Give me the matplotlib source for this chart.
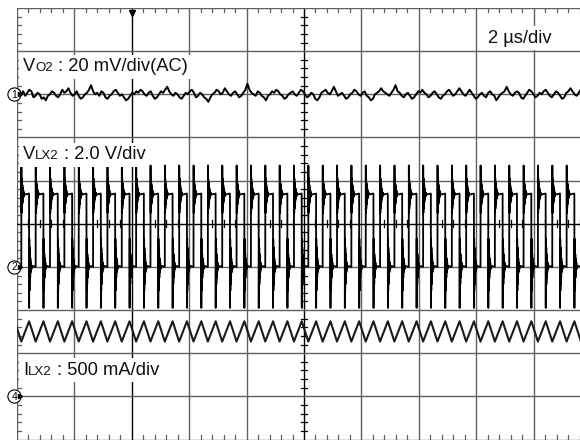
import numpy as np
import matplotlib
matplotlib.use("Agg")
import matplotlib.pyplot as plt
from matplotlib.offsetbox import TextArea, HPacker, AnchoredOffsetbox

plt.rcParams['font.family'] = ['Liberation Sans', 'DejaVu Sans']

# scope settings
t_div = 2.0        # us/div
vo_div = 20.0      # mV/div (ch1)
vlx_div = 2.0      # V/div (ch2)
ilx_div = 500.0    # mA/div (ch4)
n_xdiv = 10
n_ydiv = 10

# ground reference positions, divisions from screen centre
gnd_ch1 = 3.0
gnd_ch2 = -1.0
gnd_ch4 = -4.0
trig_div = 2.0

# switching node, one period (us, V)
t_sw = 0.5
t_first = 0.15
lx_t = [0.000, 0.003, 0.009, 0.015, 0.021, 0.027, 0.033, 0.039, 0.045, 0.052, 0.060, 0.070,
        0.082, 0.095, 0.110, 0.270, 0.273, 0.279, 0.285, 0.291, 0.297, 0.303, 0.310, 0.318,
        0.328, 0.340, 0.355, 0.375, 0.500]
lx_v = [0.0, 4.7, 2.5, 4.1, 2.7, 3.9, 2.9, 3.8, 3.0, 3.65, 3.15, 3.55,
        3.25, 3.45, 3.35, 3.4, -1.9, 1.3, -1.1, 0.9, -0.8, 0.6, -0.5, 0.4,
        -0.25, 0.2, -0.1, 0.05, 0.0]

# inductor current, one period (us, mA)
il_t = [0.0, 0.272, 0.5]
il_v = [635, 870, 635]

# output ripple, 0.7 mV steps
vo_ripple = [
    1, 3, 0, 2, -1, 1, 3, 2, -2, -1, 1, 0, -3, -2, -4, -1, 0, 2, 1, -1,
    -2, 0, 3, 1, 2, 4, 1, -1, 0, 2, -1, -3, -2, 0, 1, 3, 6, 2, 0, 1,
    -1, 2, 1, -2, -3, -1, 0, 2, 3, 1, -1, 0, -2, -4, -3, -1, 1, 0, 2, 1,
    3, 2, 0, -1, 1, 2, -1, -3, -2, 0, 2, 1, 3, 5, 2, 0, -1, 1, 0, -2,
    -3, -1, 1, 0, 2, 3, 1, -2, -1, 1, 0, -2, -3, -5, -2, 0, 1, 3, 2, 0,
    1, 4, 2, 0, -1, 1, 2, 0, -2, -1, 1, 3, 7, 3, 1, 0, -1, 2, 1, -1,
    -2, -4, -1, 0, 2, 1, 3, 2, 0, -1, -3, -2, 0, 1, 2, 0, -1, 1, 3, 2,
    0, -2, -1, 1, 0, -3, -4, -2, 1, 2, 3, 1, 0, 2, 5, 2, -1, 0, 1, -1,
    -3, -2, 0, 1, 3, 2, 0, -1, 1, 2, -1, -2, -4, -3, 0, 1, 2, 4, 2, 1,
    0, -1, 1, 3, 6, 2, 1, -1, -2, 0, 1, -1, -3, -2, 0, 2, 1, 3, 1, 0,
    -2, -1, 1, 2, 0, -2, -3, -1, 0, 2, 3, 1, -1, 0, 2, 4, 2, 0, -1, 1,
    3, 1, -1, -3, -2, 0, 1, -1, -2, 1, 2, 0, -1, -4, -2, 0, 1, 2, 5, 2,
    0, -1, 1, 2, 1, -2, -3, -1, 1, 3, 2, 0, -2, -1, 1, 0, 2, 3, 1, -1,
    -2, 0, 2, 1, -1, -3, -2, 1, 2, 4, 2, 0, -1, 1, 3, 1, -2, -1, 0, 1,
]

fig = plt.figure(figsize=(5.8, 4.4), dpi=100)
ax = fig.add_axes([17 / 580, 0.5 / 440, 574 / 580, 431.5 / 440])
ax.set_xlim(0, n_xdiv)
ax.set_ylim(-n_ydiv / 2, n_ydiv / 2)
ax.axis('off')

grid_c = '#606060'
# graticule
for i in range(n_xdiv + 1):
    c = 'black' if i in (5, int(trig_div)) else grid_c
    ax.plot([i, i], [-5, 5], color=c, lw=1.0, zorder=1)
for j in range(n_ydiv + 1):
    c = 'black' if j == 5 else grid_c
    ax.plot([0, n_xdiv], [j - 5, j - 5], color=c, lw=1.0, zorder=1)

# minor ticks (5 per division)
sx = 3.5 / 57.4
sy = 3.5 / 43.2
for k in range(n_xdiv * 5 + 1):
    x = k / 5
    if k % 5:
        ax.plot([x, x], [-sy, sy], color='black', lw=0.9, zorder=1)
        ax.plot([x, x], [5, 5 - sy * 1.2], color=grid_c, lw=0.9, zorder=1)
        ax.plot([x, x], [-5, -5 + sy * 1.2], color=grid_c, lw=0.9, zorder=1)
for k in range(n_ydiv * 5 + 1):
    y = k / 5 - 5
    if k % 5:
        ax.plot([5 - sx, 5 + sx], [y, y], color='black', lw=0.9, zorder=1)
        ax.plot([0, sx * 1.2], [y, y], color=grid_c, lw=0.9, zorder=1)

# ch2 switching node, ch4 inductor current
t_end = t_div * n_xdiv
n_cyc = int(np.ceil(t_end / t_sw)) + 2
tt, vv, it, iv = [], [], [], []
for k in range(-1, n_cyc):
    t0 = t_first + k * t_sw
    tt += [t0 + a for a in lx_t]
    vv += lx_v
    it += [t0 + a for a in il_t]
    iv += il_v
tt = np.array(tt)
vv = np.array(vv)
it = np.array(it)
iv = np.array(iv)
ax.plot(tt / t_div, gnd_ch2 + vv / vlx_div, color='black', lw=1.3, zorder=3)
ax.plot(it / t_div, gnd_ch4 + iv / ilx_div, color='#1a1a1a', lw=1.5, zorder=3)

# ch1 output ripple
vo = np.array(vo_ripple) * 0.7
to = np.linspace(0, t_end, len(vo))
ax.plot(to / t_div, gnd_ch1 + vo / vo_div, color='black', lw=1.4, zorder=3)

# ground markers
for g, lab in [(gnd_ch1, '1'), (gnd_ch2, '2'), (gnd_ch4, '4')]:
    ax.plot([-0.05], [g], marker='o', ms=9.5, mfc='white', mec='black', mew=0.8,
            clip_on=False, zorder=5)
    ax.text(-0.05, g - 0.01, lab, fontsize=7.5, ha='center', va='center', zorder=6,
            clip_on=False)
    ax.plot([0.05], [g], marker='>', ms=3, color='black', clip_on=False, zorder=5)

# trigger marker
ax.plot([trig_div], [4.88], marker='v', ms=5, color='black', zorder=5)


def label(parts, x, y):
    kids = [TextArea(s, textprops=dict(fontsize=fs, color='#111111')) for s, fs in parts]
    box = HPacker(children=kids, align='baseline', pad=0, sep=0)
    anc = AnchoredOffsetbox(loc='center left', child=box, pad=0.25, borderpad=0,
                            bbox_to_anchor=(x, y), bbox_transform=ax.transData,
                            frameon=True)
    anc.patch.set_facecolor('white')
    anc.patch.set_edgecolor('none')
    anc.set_zorder(4)
    ax.add_artist(anc)


big = 13.2
small = 9.5
label([('V', big), ('O2', small), (' : 20 mV/div(AC)', big)], 0.04, 3.64)
label([('V', big), ('LX2', small), (' : 2.0 V/div', big)], 0.04, 1.6)
label([('I', big), ('LX2', small), (' : 500 mA/div', big)], 0.04, -3.4)
label([('2 µs/div', big)], 8.15, 4.3)

fig.savefig('out.png', dpi=100)
